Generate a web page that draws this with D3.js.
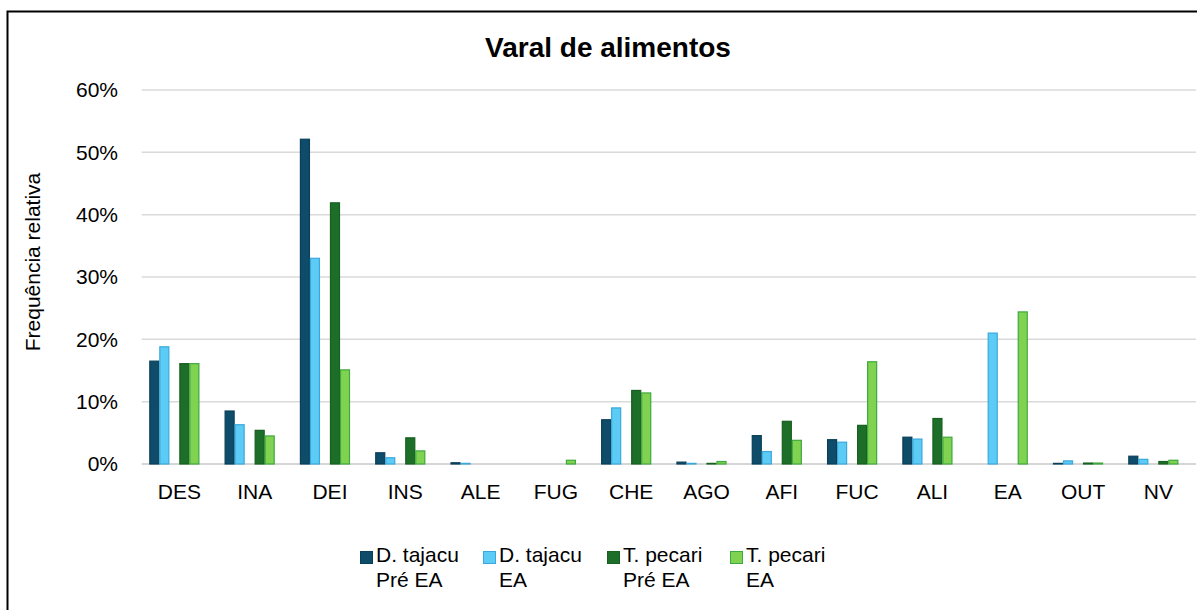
<!DOCTYPE html>
<html>
<head>
<meta charset="utf-8">
<script src="https://cdn.jsdelivr.net/npm/d3@7"></script>
<style>
body { margin: 0; background: #fff; }
text { font-family: "Liberation Sans", Arial, sans-serif; fill: #000; }
</style>
</head>
<body>
<div id="chart"></div>
<script>
// data (percent)
var categories = ["DES","INA","DEI","INS","ALE","FUG","CHE","AGO","AFI","FUC","ALI","EA","OUT","NV"];
var seriesNames = [["D. tajacu","Pré EA"],["D. tajacu","EA"],["T. pecari","Pré EA"],["T. pecari","EA"]];
var dtPre = [16.5, 8.5, 52.1, 1.8, 0.2, 0, 7.1, 0.3, 4.55, 3.9, 4.3, 0, 0.1, 1.25];
var dtEA  = [18.8, 6.3, 33.0, 1.0, 0.1, 0, 9.0, 0.1, 2.0, 3.5, 4.0, 21.0, 0.5, 0.75];
var tpPre = [16.1, 5.4, 41.9, 4.2, 0, 0, 11.8, 0.1, 6.85, 6.2, 7.3, 0, 0.15, 0.4];
var tpEA  = [16.1, 4.5, 15.1, 2.1, 0, 0.6, 11.4, 0.4, 3.8, 16.4, 4.3, 24.4, 0.15, 0.6];
var yTicks = [0, 10, 20, 30, 40, 50, 60];

var fills   = ["#0e4c69", "#5ccbf5", "#1c6e28", "#80d350"];
var strokes = ["#0a3f58", "#3aa8dc", "#17601f", "#3fa83f"];
var slots = [0, 1, 3, 4]; // excel leaves an empty slot between the pairs

var W = 1197, H = 610;
var plotL = 141.7, plotR = 1196, plotT = 90, plotB = 464;

var svg = d3.select("#chart")
.append("svg")
.attr("width", W)
.attr("height", H);

svg.append("rect")
.attr("width", W).attr("height", H)
.attr("fill", "#fff");

// frame (only left and top are visible in the picture)
svg.append("rect")
.attr("x", 7.5).attr("y", 11.5)
.attr("width", W + 20).attr("height", H + 20)
.attr("fill", "none")
.attr("stroke", "#000")
.attr("stroke-width", 2);

var x0 = d3.scaleBand()
.domain(categories)
.range([plotL, plotR]);

var x1 = d3.scaleBand()
.domain(d3.range(6))
.range([0, x0.bandwidth()])
.paddingOuter(0.76);

var y = d3.scaleLinear()
.domain([0, 60])
.range([plotB, plotT]);

//gridlines
svg.append("g")
.selectAll("line")
.data(yTicks)
.enter()
.append("line")
.attr("x1", plotL).attr("x2", plotR)
.attr("y1", function(d){ return y(d); })
.attr("y2", function(d){ return y(d); })
.attr("stroke", function(d){ return d == 0 ? "#c8c8c8" : "#dadada"; })
.attr("stroke-width", 1.5);

//y tick labels
svg.append("g")
.selectAll("text")
.data(yTicks)
.enter()
.append("text")
.attr("x", 118)
.attr("y", function(d){ return y(d); })
.attr("dy", "0.35em")
.attr("text-anchor", "end")
.style("font-size", "21px")
.text(function(d){ return d + "%"; });

//x labels
svg.append("g")
.selectAll("text")
.data(categories)
.enter()
.append("text")
.attr("x", function(d){ return x0(d) + x0.bandwidth()/2; })
.attr("y", 499)
.attr("text-anchor", "middle")
.style("font-size", "21px")
.text(function(d){ return d; });

//bars
var allSeries = [dtPre, dtEA, tpPre, tpEA];
allSeries.forEach(function(vals, s){
  var rows = vals.map(function(v, i){ return {cat: categories[i], v: v}; })
    .filter(function(d){ return d.v > 0; });
  svg.append("g")
  .selectAll("rect")
  .data(rows)
  .enter()
  .append("rect")
  .attr("x", function(d){ return x0(d.cat) + x1(slots[s]) + 0.5; })
  .attr("width", x1.bandwidth() - 1)
  .attr("y", function(d){ return y(d.v); })
  .attr("height", function(d){ return plotB - y(d.v); })
  .attr("fill", fills[s])
  .attr("stroke", strokes[s])
  .attr("stroke-width", 1.2);
});

//title
svg.append("text")
.attr("x", 608)
.attr("y", 57)
.attr("text-anchor", "middle")
.style("font-size", "28px")
.style("font-weight", "bold")
.text("Varal de alimentos");

//y axis label
svg.append("g")
.attr("transform", "translate(40,262)")
.append("text")
.attr("transform", "rotate(-90)")
.attr("text-anchor", "middle")
.style("font-size", "21px")
.text("Frequência relativa");

//legend
var legendX = [360, 483, 607, 730];
var legend = svg.append("g")
.selectAll("g")
.data(seriesNames)
.enter()
.append("g")
.attr("transform", function(d, i){ return "translate(" + legendX[i] + ",0)"; });

legend.append("rect")
.attr("x", 0.5).attr("y", 551.5)
.attr("width", 12).attr("height", 12)
.attr("fill", function(d, i){ return fills[i]; })
.attr("stroke", function(d, i){ return strokes[i]; });

var lt = legend.append("text")
.style("font-size", "21px");
lt.append("tspan")
.attr("x", 16).attr("y", 562)
.text(function(d){ return d[0]; });
lt.append("tspan")
.attr("x", 16).attr("y", 587)
.text(function(d){ return d[1]; });
</script>
</body>
</html>
